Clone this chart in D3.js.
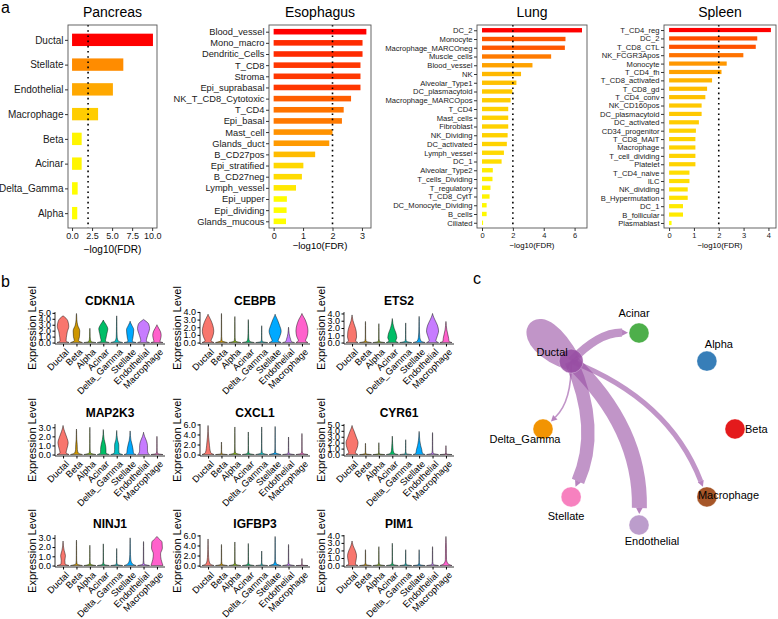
<!DOCTYPE html>
<html><head><meta charset="utf-8">
<script src="https://cdn.jsdelivr.net/npm/d3@7"></script>
<style>
body{margin:0;background:#fff}
svg{display:block;font-family:"Liberation Sans",Arial,Helvetica,sans-serif}
</style>
</head><body>
<svg id="fig" width="778" height="619"></svg>
<script>
// ================= DATA =================
// Panel a : -log10(FDR) per cell type
const pancreasCells = ["Ductal","Stellate","Endothelial","Macrophage","Beta","Acinar","Delta_Gamma","Alpha"];
const pancreasVals  = [10.1,6.4,5.1,3.25,1.2,1.2,0.7,0.65];
const pancreasTicks = [0,2.5,5,7.5,10];

const esophagusCells = ["Blood_vessel","Mono_macro","Dendritic_Cells","T_CD8","Stroma","Epi_suprabasal","NK_T_CD8_Cytotoxic","T_CD4","Epi_basal","Mast_cell","Glands_duct","B_CD27pos","Epi_stratified","B_CD27neg","Lymph_vessel","Epi_upper","Epi_dividing","Glands_mucous"];
const esophagusVals  = [3.15,3.02,3.02,2.95,2.95,2.95,2.63,2.38,2.32,2.0,1.89,1.41,1.01,0.96,0.76,0.45,0.44,0.42];
const esophagusTicks = [0,1,2,3];

const lungCells = ["DC_2","Monocyte","Macrophage_MARCOneg","Muscle_cells","Blood_vessel","NK","Alveolar_Type1","DC_plasmacytoid","Macrophage_MARCOpos","T_CD4","Mast_cells","Fibroblast","NK_Dividing","DC_activated","Lymph_vessel","DC_1","Alveolar_Type2","T_cells_Dividing","T_regulatory","T_CD8_CytT","DC_Monocyte_Dividing","B_cells","Ciliated"];
const lungVals  = [6.48,5.41,5.37,4.48,3.27,2.53,2.23,1.97,1.85,1.70,1.70,1.70,1.66,1.61,1.42,1.27,0.70,0.68,0.55,0.49,0.30,0.30,0.07];
const lungTicks = [0,2,4,6];

const spleenCells = ["T_CD4_reg","DC_2","T_CD8_CTL","NK_FCGR3Apos","Monocyte","T_CD4_fh","T_CD8_activated","T_CD8_gd","T_CD4_conv","NK_CD160pos","DC_plasmacytoid","DC_activated","CD34_progenitor","T_CD8_MAIT","Macrophage","T_cell_dividing","Platelet","T_CD4_naive","ILC","NK_dividing","B_Hypermutation","DC_1","B_follicular","Plasmablast"];
const spleenVals  = [4.10,3.55,3.49,2.99,2.32,2.11,1.73,1.53,1.46,1.31,1.31,1.20,1.08,1.06,1.06,1.06,1.06,0.82,0.82,0.75,0.75,0.56,0.56,0.10];
const spleenTicks = [0,1,2,3,4];

const fdrCutoff = 2;

// Panel b : violin plots
const vlnCells  = ["Ductal","Beta","Alpha","Acinar","Delta_Gamma","Stellate","Endothelial","Macrophage"];
const vlnColors = ["#F8766D","#CD9600","#7CAE00","#00BE67","#00BFC4","#00A9FF","#C77CFF","#FF61CC"];
const genes     = ["CDKN1A","CEBPB","ETS2","MAP2K3","CXCL1","CYR61","NINJ1","IGFBP3","PIM1"];
const geneTicks = [[0,1,2,3,4,5],[0,1,2,3,4],[0,1,2,3,4],[0,1,2,3],[0,2,4,6],[0,1,2,3,4,5],[0,1,2,3],[0,2,4,6],[0,1,2,3,4]];
// relative heights (fraction of each violin's max) where half-widths are read
const profileLevels = [0.06,0.2,0.4,0.6,0.8,0.95];
// each violin: [max expression, relative half-widths at profileLevels]
const CDKN1A = [[4.5,.5,.55,.7,.95,.8,.3],[4.9,.35,.5,.55,.2,.06,.03],[2.4,.25,.1,.05,.04,.03,.02],[3.8,.35,.45,.6,.75,.45,.08],[4.5,.25,.08,.05,.04,.03,.02],[3.6,.35,.45,.55,.6,.3,.05],[3.9,.45,.55,.8,1,.85,.25],[3.0,.5,.6,.7,.6,.3,.06]];
const CEBPB  = [[3.7,.5,.75,.95,.8,.45,.1],[3.8,.1,.04,.03,.03,.02,.02],[3.4,.1,.04,.03,.03,.02,.02],[3.0,.2,.08,.05,.04,.03,.02],[2.2,.1,.04,.03,.03,.02,.02],[3.7,.5,.75,1,.75,.4,.08],[2.0,.5,.35,.2,.1,.05,.02],[3.8,.6,.85,1,.85,.5,.1]];
const ETS2   = [[3.8,.6,.75,.7,.45,.15,.03],[2.9,.1,.04,.03,.03,.02,.02],[2.6,.1,.04,.03,.03,.02,.02],[3.3,.55,.75,.6,.3,.1,.03],[2.7,.1,.04,.03,.03,.02,.02],[3.6,.3,.12,.06,.04,.03,.02],[4.0,.55,.75,1,.8,.35,.06],[2.9,.5,.45,.3,.15,.06,.02]];
const MAP2K3 = [[3.2,.5,.65,.85,.6,.25,.04],[2.8,.3,.15,.12,.05,.03,.02],[3.0,.1,.04,.03,.03,.02,.02],[2.75,.45,.45,.35,.15,.05,.02],[2.65,.4,.35,.35,.15,.05,.02],[2.6,.55,.5,.35,.15,.05,.02],[2.45,.75,.65,.65,.5,.2,.03],[2.0,.1,.04,.03,.03,.02,.02]];
const CXCL1  = [[5.8,.45,.3,.2,.1,.04,.02],[2.5,.1,.04,.03,.03,.02,.02],[5.5,.1,.04,.03,.03,.02,.02],[4.5,.1,.04,.03,.03,.02,.02],[5.5,.1,.04,.03,.03,.02,.02],[5.6,.1,.04,.03,.03,.02,.02],[3.5,.1,.04,.03,.03,.02,.02],[4.2,.1,.04,.03,.03,.02,.02]];
const CYR61  = [[4.9,.55,.8,1,.7,.35,.06],[1.9,.1,.04,.03,.03,.02,.02],[2.0,.1,.04,.03,.03,.02,.02],[3.1,.35,.15,.1,.06,.03,.02],[2.5,.1,.04,.03,.03,.02,.02],[3.9,.55,.45,.25,.12,.05,.02],[3.7,.1,.04,.03,.03,.02,.02],[1.5,.1,.04,.03,.03,.02,.02]];
const NINJ1  = [[2.65,.35,.3,.4,.2,.06,.02],[2.75,.1,.04,.03,.03,.02,.02],[2.2,.1,.04,.03,.03,.02,.02],[2.35,.1,.04,.03,.03,.02,.02],[1.85,.1,.04,.03,.03,.02,.02],[3.0,.4,.12,.06,.04,.03,.02],[2.6,.1,.04,.03,.03,.02,.02],[3.15,.9,.7,.6,.9,.85,.2]];
const IGFBP3 = [[5.3,.35,.15,.08,.05,.03,.02],[4.2,.1,.04,.03,.03,.02,.02],[4.7,.1,.04,.03,.03,.02,.02],[4.4,.1,.04,.03,.03,.02,.02],[2.9,.1,.04,.03,.03,.02,.02],[5.8,.2,.05,.04,.03,.03,.02],[4.2,.1,.04,.03,.03,.02,.02],[1.4,.1,.04,.03,.03,.02,.02]];
const PIM1   = [[3.25,.55,.65,.75,.55,.2,.03],[2.1,.1,.04,.03,.03,.02,.02],[2.5,.1,.04,.03,.03,.02,.02],[2.95,.1,.04,.03,.03,.02,.02],[2.1,.1,.04,.03,.03,.02,.02],[2.1,.1,.04,.03,.03,.02,.02],[2.5,.1,.04,.03,.03,.02,.02],[3.85,.35,.1,.08,.08,.05,.02]];
const geneViolins = [CDKN1A,CEBPB,ETS2,MAP2K3,CXCL1,CYR61,NINJ1,IGFBP3,PIM1];

// Panel c : communication network
const netNodes   = ["Beta","Macrophage","Endothelial","Stellate","Delta_Gamma","Ductal","Acinar","Alpha"];
const netColors  = ["#E41A1C","#A65628","#BC9DCC","#F781BF","#F29403","#984EA3","#4DAF4A","#377EB8"];
const netSource  = "Ductal";
const netTargets = ["Ductal","Endothelial","Stellate","Acinar","Macrophage","Delta_Gamma"];
const netWeights = [10,9,8,5,3,1];

// ================= DRAW =================
const svg = d3.select("#fig");
const TXT = "#1a1a1a";

function panelLabel(t,x,y){
  svg.append("text").attr("x",x).attr("y",y).attr("font-size",16).attr("fill","#000").text(t);
}
panelLabel("a",1,13);
panelLabel("b",1,287);
panelLabel("c",473,284);

// ---------- Panel a ----------
const barLayouts = [
  {title:"Pancreas", cells:pancreasCells, vals:pancreasVals, ticks:pancreasTicks, fmt:d3.format(".1f"), x0:68, x1:157, yfs:10, xfs:9, tfs:10, ty:253},
  {title:"Esophagus", cells:esophagusCells, vals:esophagusVals, ticks:esophagusTicks, fmt:d3.format("d"), x0:269, x1:371, yfs:9.3, xfs:9, tfs:9.5, ty:249},
  {title:"Lung", cells:lungCells, vals:lungVals, ticks:lungTicks, fmt:d3.format("d"), x0:477, x1:587, yfs:7.6, xfs:7.5, tfs:7.8, ty:248},
  {title:"Spleen", cells:spleenCells, vals:spleenVals, ticks:spleenTicks, fmt:d3.format("d"), x0:664, x1:776, yfs:7.6, xfs:7.5, tfs:7.8, ty:248}
];
const boxTop = 25, boxBot = 228;

barLayouts.forEach(L=>{
  const g = svg.append("g");
  const maxV = d3.max(L.vals);
  const pad = 0.05*maxV;
  const x = d3.scaleLinear().domain([-pad, maxV+pad]).range([L.x0, L.x1]);
  const y = d3.scalePoint().domain(L.cells).range([boxTop, boxBot]).padding(0.6);
  const bh = y.step()*0.5;
  const col = d3.scaleLinear().domain([d3.min(L.vals), maxV]).range(["#FFFF00","#FF0000"]).interpolate(d3.interpolateLab);
  g.selectAll("rect.bar").data(L.cells).join("rect")
    .attr("x", x(0)).attr("y", d=>y(d)-bh/2)
    .attr("width",(d,i)=>x(L.vals[i])-x(0)).attr("height",bh)
    .attr("fill",(d,i)=>col(L.vals[i]));
  g.append("line").attr("x1",x(fdrCutoff)).attr("x2",x(fdrCutoff)).attr("y1",boxTop).attr("y2",boxBot)
    .attr("stroke","#000").attr("stroke-width",1.6).attr("stroke-dasharray","1.6,3.6");
  g.append("rect").attr("x",L.x0).attr("y",boxTop).attr("width",L.x1-L.x0).attr("height",boxBot-boxTop)
    .attr("fill","none").attr("stroke","#555").attr("stroke-width",0.9);
  const ax = g.append("g").attr("transform",`translate(0,${boxBot})`)
    .call(d3.axisBottom(x).tickValues(L.ticks).tickFormat(L.fmt).tickSize(3).tickPadding(1.5));
  ax.select(".domain").remove();
  ax.selectAll("line").attr("stroke","#333");
  ax.selectAll("text").attr("font-size",L.xfs).attr("fill",TXT).attr("font-family",null);
  const ay = g.append("g").attr("transform",`translate(${L.x0},0)`)
    .call(d3.axisLeft(y).tickSize(3).tickPadding(1.5));
  ay.select(".domain").remove();
  ay.selectAll("line").attr("stroke","#333");
  ay.selectAll("text").attr("font-size",L.yfs).attr("fill",TXT).attr("font-family",null);
  g.append("text").attr("x",(L.x0+L.x1)/2).attr("y",17).attr("text-anchor","middle")
    .attr("font-size",14).attr("fill","#000").text(L.title);
  g.append("text").attr("x",(L.x0+L.x1)/2).attr("y",L.ty).attr("text-anchor","middle")
    .attr("font-size",L.tfs).attr("fill","#000").text("\u2212log10(FDR)");
});

// ---------- Panel b ----------
const colAxisX = [55,200,344];
const rowBottom = [344,456,567];
const vW = 110, vH = 32;

genes.forEach((gene,gi)=>{
  const x0 = colAxisX[gi%3], yb = rowBottom[Math.floor(gi/3)], yt = yb - vH;
  const g = svg.append("g");
  const viol = geneViolins[gi];
  const M = d3.max(viol, d=>d[0]);
  const y = d3.scaleLinear().domain([-0.05*M, 1.05*M]).range([yb, yt]);
  const x = d3.scalePoint().domain(vlnCells).range([x0, x0+vW]).padding(0.6);
  const hw = x.step()*0.45;
  const area = d3.area().curve(d3.curveMonotoneY)
    .y(p=>y(p[0])).x0(p=>p[2]-p[1]*hw).x1(p=>p[2]+p[1]*hw);
  viol.forEach((v,ci)=>{
    const cx = x(vlnCells[ci]);
    const pts = [[0,1,cx]];
    profileLevels.forEach((f,k)=>pts.push([f*v[0], v[k+1], cx]));
    pts.push([v[0],0,cx]);
    g.append("path").attr("d",area(pts)).attr("fill",vlnColors[ci])
      .attr("stroke","#000").attr("stroke-width",0.45).attr("stroke-linejoin","round");
  });
  // axes
  g.append("line").attr("x1",x0).attr("x2",x0+vW).attr("y1",yb).attr("y2",yb).attr("stroke","#000").attr("stroke-width",0.8);
  g.append("line").attr("x1",x0).attr("x2",x0).attr("y1",yt).attr("y2",yb).attr("stroke","#000").attr("stroke-width",0.8);
  const ay = g.append("g").attr("transform",`translate(${x0},0)`)
    .call(d3.axisLeft(y).tickValues(geneTicks[gi]).tickSize(2.5).tickPadding(1.5));
  ay.select(".domain").remove();
  ay.selectAll("line").attr("stroke","#000");
  ay.selectAll("text").attr("font-size",9).attr("fill","#000").attr("font-family",null);
  const axb = g.append("g").attr("transform",`translate(0,${yb})`)
    .call(d3.axisBottom(x).tickSize(2.5).tickFormat(""));
  axb.select(".domain").remove();
  axb.selectAll("line").attr("stroke","#000");
  vlnCells.forEach(c=>{
    g.append("text").attr("transform",`translate(${x(c)+2},${yb+4}) rotate(-45)`)
      .attr("text-anchor","end").attr("dy","0.7em").attr("font-size",9.3).attr("fill","#000").text(c);
  });
  g.append("text").attr("x",x0+vW/2).attr("y",yt-7).attr("text-anchor","middle")
    .attr("font-size",12).attr("font-weight","bold").attr("fill","#000").text(gene);
  g.append("text").attr("transform",`translate(${x0-19},${(yt+yb)/2}) rotate(-90)`)
    .attr("text-anchor","middle").attr("font-size",11).attr("fill","#000").text("Expression Level");
});

// ---------- Panel c ----------
const netCx = 639, netCy = 429, netR = 96;
const ang = d3.scaleLinear().domain([0, netNodes.length]).range([0, 2*Math.PI]);
const nodePos = {};
netNodes.forEach((n,i)=>{ nodePos[n] = [netCx + netR*Math.cos(ang(i)), netCy + netR*Math.sin(ang(i))]; });
const nodeR = n => n===netSource ? 12 : 10;
const wScale = d3.scaleLinear().domain([0, 9]).range([0, 15]);
const srcColor = netColors[netNodes.indexOf(netSource)];
const gc = svg.append("g");

netTargets.forEach((t,i)=>{
  const w = wScale(netWeights[i]);
  const S = nodePos[netSource];
  if (t === netSource){
    const [sx,sy] = S;
    gc.append("path").attr("d",`M${sx},${sy} C${sx-58},${sy-20} ${sx-34},${sy-62} ${sx},${sy}`)
      .attr("fill","none").attr("stroke",srcColor).attr("stroke-opacity",0.6).attr("stroke-width",w*1.15);
    return;
  }
  const T = nodePos[t];
  const dx = T[0]-S[0], dy = T[1]-S[1], len = Math.hypot(dx,dy);
  const nx = dy/len, ny = -dx/len;
  const k = 0.22*len;
  const C = [(S[0]+T[0])/2 + nx*k, (S[1]+T[1])/2 + ny*k];
  const ex = T[0]-C[0], ey = T[1]-C[1], el = Math.hypot(ex,ey);
  const ux = ex/el, uy = ey/el;
  const rr = nodeR(t)+1;
  const E = [T[0]-ux*rr, T[1]-uy*rr];
  const aL = 6, aW = 3.2;
  const B = [E[0]-ux*aL, E[1]-uy*aL];
  gc.append("path").attr("d",`M${S[0]},${S[1]} Q${C[0]},${C[1]} ${B[0]},${B[1]}`)
    .attr("fill","none").attr("stroke",srcColor).attr("stroke-opacity",0.6).attr("stroke-width",w);
  gc.append("path").attr("d",`M${E[0]},${E[1]} L${B[0]-uy*aW},${B[1]+ux*aW} L${B[0]+uy*aW},${B[1]-ux*aW} Z`)
    .attr("fill",srcColor).attr("fill-opacity",0.7);
});

netNodes.forEach((n,i)=>{
  const [px,py] = nodePos[n];
  gc.append("circle").attr("cx",px).attr("cy",py).attr("r",nodeR(n))
    .attr("fill",netColors[i]).attr("fill-opacity", n===netSource?0.85:1)
    .attr("stroke","#fff").attr("stroke-opacity",0.5).attr("stroke-width",0.6);
});

const labelOffsets = {Beta:[10,4,"start"], Macrophage:[-9,2,"start"], Endothelial:[13,20,"middle"], Stellate:[-5,23,"middle"],
  Delta_Gamma:[-18,14,"middle"], Ductal:[-19,-5,"middle"], Acinar:[-5,-16,"middle"], Alpha:[12,-13,"middle"]};
netNodes.forEach(n=>{
  const [px,py] = nodePos[n]; const o = labelOffsets[n];
  gc.append("text").attr("x",px+o[0]).attr("y",py+o[1]).attr("text-anchor",o[2])
    .attr("font-size",11).attr("fill","#000").text(n);
});
</script>
</body></html>
